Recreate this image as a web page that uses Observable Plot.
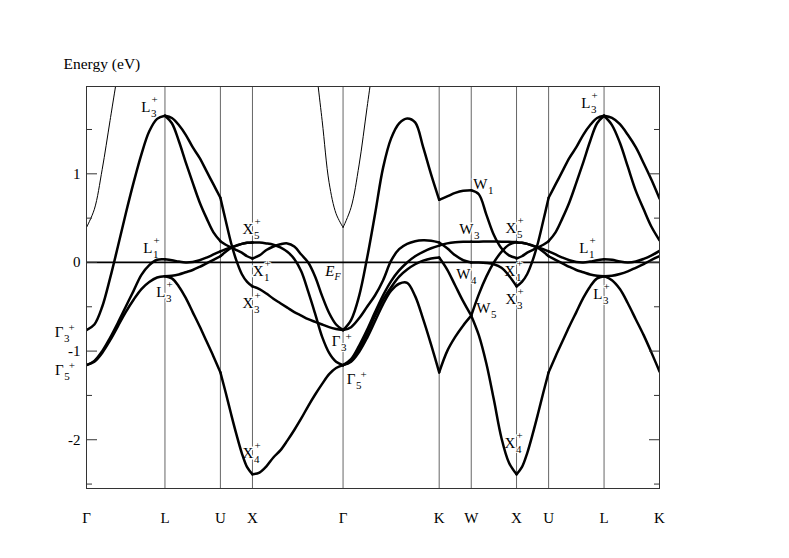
<!DOCTYPE html>
<html><head><meta charset="utf-8">
<script src="https://cdn.jsdelivr.net/npm/d3@7"></script>
<script src="https://cdn.jsdelivr.net/npm/@observablehq/plot@0.6"></script>
<style>
html,body{margin:0;padding:0;background:#fff;}
#chart{width:789px;height:558px;}
svg{font-family:"Liberation Serif","Times New Roman",serif;}
</style></head><body><div id="chart"></div>
<script>
// High-symmetry path (k in units of 2π/a)
const kLabels = ["Γ","L","U","X","Γ","K","W","X","U","L","K"];
const kPoints = [0, 0.866, 1.478, 1.832, 2.832, 3.893, 4.247, 4.747, 5.101, 5.713, 6.325];
const yMajor = [-2, -1, 0, 1];
const yMinor = [-2.5, -1.5, -0.5, 0.5, 1.5];

// Energies (eV), read at equal steps along each path segment
const bandsGL = [
  [-0.763, -0.70, -0.50, -0.18, 0.18, 0.55, 0.90, 1.22, 1.48, 1.62, 1.655],
  [-1.158, -1.11, -1.00, -0.85, -0.68, -0.50, -0.32, -0.14, -0.03, 0.03, 0.035],
  [-1.158, -1.12, -1.02, -0.88, -0.72, -0.56, -0.42, -0.30, -0.22, -0.17, -0.155]
];
const thinGL = [0.395, 0.60, 1.05, 1.60, 2.15];
const bandsLU = [
  [1.655, 1.57, 1.37, 1.13, 0.90, 0.68, 0.50, 0.34, 0.24],
  [1.655, 1.63, 1.55, 1.44, 1.30, 1.18, 1.03, 0.88, 0.73],
  [0.035, 0.025, 0.01, 0.0, 0.005, 0.025, 0.055, 0.09, 0.125],
  [-0.155, -0.15, -0.135, -0.11, -0.085, -0.05, -0.01, 0.03, 0.07],
  [-0.155, -0.18, -0.27, -0.40, -0.56, -0.72, -0.89, -1.06, -1.24]
];
const bandsUX = [
  [0.73, 0.47, 0.22, 0.02, -0.13, -0.22, -0.27],
  [0.24, 0.20, 0.17, 0.14, 0.11, 0.07, 0.045],
  [0.125, 0.15, 0.17, 0.19, 0.21, 0.222, 0.226],
  [0.07, 0.12, 0.165, 0.19, 0.21, 0.222, 0.226],
  [-1.24, -1.47, -1.71, -1.94, -2.15, -2.31, -2.39]
];
const bandsXG = [
  [0.226, 0.225, 0.215, 0.20, 0.17, 0.12, 0.04, -0.10, -0.33, -0.58, -0.84, -1.02, -1.12, -1.158],
  [0.045, 0.08, 0.14, 0.18, 0.205, 0.215, 0.18, 0.09, 0.0, -0.16, -0.38, -0.57, -0.70, -0.763],
  [-0.27, -0.30, -0.35, -0.41, -0.46, -0.51, -0.56, -0.60, -0.64, -0.67, -0.70, -0.73, -0.75, -0.763],
  [-2.39, -2.37, -2.30, -2.20, -2.12, -2.01, -1.89, -1.76, -1.62, -1.49, -1.37, -1.26, -1.19, -1.158]
];
const thinXG = [null, null, null, null, null, null, null, null, null, 2.27, 1.60, 0.90, 0.55, 0.395];
const bandsGK = [
  [-0.763, -0.65, -0.38, 0.05, 0.55, 1.07, 1.40, 1.57, 1.625, 1.58, 1.30, 0.99, 0.707],
  [-0.763, -0.73, -0.63, -0.50, -0.37, -0.20, 0.02, 0.15, 0.21, 0.24, 0.25, 0.245, 0.225],
  [-1.158, -1.09, -0.94, -0.76, -0.56, -0.37, -0.21, -0.09, 0.0, 0.07, 0.12, 0.16, 0.19],
  [-1.158, -1.11, -0.98, -0.80, -0.60, -0.42, -0.28, -0.16, -0.08, -0.02, 0.02, 0.045, 0.056],
  [-1.158, -1.12, -1.01, -0.85, -0.66, -0.47, -0.32, -0.24, -0.23, -0.38, -0.64, -0.93, -1.24]
];
const thinGK = [0.395, 0.62, 1.10, 1.75, 2.40];
const bandsKW = [
  [0.707, 0.745, 0.785, 0.81, 0.815],
  [0.225, 0.16, 0.08, 0.025, 0.0],
  [0.19, 0.215, 0.228, 0.233, 0.233],
  [0.056, -0.08, -0.26, -0.44, -0.60],
  [-1.24, -1.00, -0.84, -0.71, -0.60]
];
const bandsWX = [
  [0.815, 0.77, 0.54, 0.31, 0.16, 0.08, 0.05],
  [0.233, 0.235, 0.236, 0.236, 0.235, 0.233, 0.23],
  [0.0, 0.0, -0.005, -0.02, -0.06, -0.15, -0.27],
  [-0.60, -0.36, -0.16, 0.0, 0.12, 0.20, 0.23],
  [-0.60, -0.82, -1.14, -1.55, -1.98, -2.26, -2.39]
];
const bandsXU = [
  [-0.27, -0.22, -0.13, 0.02, 0.22, 0.47, 0.73],
  [0.045, 0.07, 0.11, 0.14, 0.17, 0.20, 0.24],
  [0.226, 0.222, 0.21, 0.19, 0.17, 0.15, 0.125],
  [0.226, 0.222, 0.21, 0.19, 0.165, 0.12, 0.07],
  [-2.39, -2.31, -2.15, -1.94, -1.71, -1.47, -1.24]
];
const bandsUL = [
  [0.24, 0.34, 0.50, 0.68, 0.90, 1.13, 1.37, 1.57, 1.655],
  [0.73, 0.88, 1.03, 1.18, 1.30, 1.44, 1.55, 1.63, 1.655],
  [0.125, 0.09, 0.055, 0.025, 0.005, 0.0, 0.01, 0.025, 0.035],
  [0.07, 0.03, -0.01, -0.05, -0.085, -0.11, -0.135, -0.15, -0.155],
  [-1.24, -1.06, -0.89, -0.72, -0.56, -0.40, -0.27, -0.18, -0.155]
];
const bandsLK = [
  [1.655, 1.63, 1.56, 1.44, 1.30, 1.12, 0.93, 0.72],
  [1.655, 1.55, 1.35, 1.08, 0.81, 0.60, 0.40, 0.25],
  [0.035, 0.03, 0.01, 0.0, 0.01, 0.04, 0.08, 0.13],
  [-0.155, -0.15, -0.13, -0.10, -0.06, -0.02, 0.03, 0.07],
  [-0.155, -0.20, -0.30, -0.46, -0.64, -0.82, -1.02, -1.23]
];

// Symmetry-point labels: letter, subscript, superscript, position (k, E)
const labelBase = ["L","L","L","X","X","X","X","Γ","Γ","Γ","Γ","W","W","W","W","X","X","X","X","L","L","L"];
const labelSub  = ["3","1","3","5","1","3","4","3","5","3","5","1","3","4","5","5","1","3","4","3","1","3"];
const labelSup  = ["+","+","+","+","+","+","+","+","+","+","+","","","","","+","+","+","+","+","+","+"];
const labelK    = [0.706, 0.728, 0.872, 1.843, 1.954, 1.843, 1.843, -0.254, -0.251, 2.804, 2.969, 4.426, 4.272, 4.238, 4.459, 4.746, 4.735, 4.746, 4.735, 5.563, 5.541, 5.695];
const labelE    = [1.693, 0.109, -0.395, 0.324, -0.150, -0.511, -2.204, -0.839, -1.275, -0.940, -1.369, 0.832, 0.325, -0.184, -0.567, 0.336, -0.150, -0.466, -2.091, 1.746, 0.109, -0.408];
const fermiLabel = {k: 2.737, E: -0.150};

const segments = [
  [0, bandsGL, thinGL], [1, bandsLU, null], [2, bandsUX, null], [3, bandsXG, thinXG],
  [4, bandsGK, thinGK], [5, bandsKW, null], [6, bandsWX, null], [7, bandsXU, null],
  [8, bandsUL, null], [9, bandsLK, null]
];

const rows = [], thinRows = [];
segments.forEach(([i0, bands, thin], s) => {
  const k0 = kPoints[i0], k1 = kPoints[i0 + 1];
  const n = bands[0].length - 1;
  bands.forEach((arr, b) => arr.forEach((E, j) => rows.push({id: s + "-" + b, k: k0 + (k1 - k0) * j / n, E})));
  if (thin) thin.forEach((E, j) => { if (E !== null) thinRows.push({id: "t" + s, k: k0 + (k1 - k0) * j / n, E}); });
});

const labels = labelBase.map((t, i) => ({t, sub: labelSub[i], sup: labelSup[i], k: labelK[i], E: labelE[i]}));
const gammaLabels = labels.filter(d => d.t === "Γ");
const otherLabels = labels.filter(d => d.t !== "Γ");
const halo = {fill: "black", stroke: "white", strokeWidth: 3, paintOrder: "stroke"};
const haloSmall = {fill: "black", stroke: "white", strokeWidth: 2, paintOrder: "stroke"};

const chart = Plot.plot({
  width: 789, height: 558,
  marginLeft: 86, marginRight: 130, marginTop: 86, marginBottom: 70,
  style: {fontFamily: "'Liberation Serif', 'Times New Roman', serif", background: "white"},
  x: {domain: [0, 6.325], axis: null},
  y: {domain: [-2.55, 1.985], axis: null},
  marks: [
    Plot.ruleX(kPoints.slice(1, -1), {stroke: "#666", strokeWidth: 1}),
    Plot.ruleY([0], {stroke: "black", strokeWidth: 1.8}),
    Plot.text(labels, {x: "k", y: "E", text: "t", textAnchor: "end", lineAnchor: "bottom", fontSize: 15, ...halo}),
    Plot.text(labels, {x: "k", y: "E", text: "sub", textAnchor: "start", lineAnchor: "bottom", fontSize: 11, dx: 0.5, dy: 5, ...haloSmall}),
    Plot.text(otherLabels, {x: "k", y: "E", text: "sup", textAnchor: "start", lineAnchor: "bottom", fontSize: 11, dx: 1, dy: -9, ...haloSmall}),
    Plot.text(gammaLabels, {x: "k", y: "E", text: "sup", textAnchor: "start", lineAnchor: "bottom", fontSize: 11, dx: 5, dy: -6, ...haloSmall}),
    Plot.text([fermiLabel], {x: "k", y: "E", text: () => "E", textAnchor: "end", lineAnchor: "bottom", fontSize: 15, fontStyle: "italic", ...halo}),
    Plot.text([fermiLabel], {x: "k", y: "E", text: () => "F", textAnchor: "start", lineAnchor: "bottom", fontSize: 10, fontStyle: "italic", dx: 0, dy: 4, ...haloSmall}),
    Plot.line(thinRows, {x: "k", y: "E", z: "id", curve: "catmull-rom", stroke: "black", strokeWidth: 1, clip: true}),
    Plot.line(rows, {x: "k", y: "E", z: "id", curve: "catmull-rom", stroke: "black", strokeWidth: 2.5, clip: true}),
    Plot.frame({stroke: "#333", strokeWidth: 1}),
    Plot.axisY(yMajor, {anchor: "left", tickSize: -11, tickPadding: 17, fontSize: 15, tickFormat: d => String(d), label: null, stroke: "#333"}),
    Plot.axisY(yMinor, {anchor: "left", tickSize: -6, tickFormat: () => "", label: null, stroke: "#333"}),
    Plot.axisY(yMajor, {anchor: "right", tickSize: -11, tickFormat: () => "", label: null, stroke: "#333"}),
    Plot.axisY(yMinor, {anchor: "right", tickSize: -6, tickFormat: () => "", label: null, stroke: "#333"}),
    Plot.text(kPoints, {x: d => d, text: (d, i) => kLabels[i], frameAnchor: "bottom", lineAnchor: "bottom", dy: 34, fontSize: 15}),
    Plot.text(["Energy (eV)"], {frameAnchor: "top-left", text: d => d, textAnchor: "start", lineAnchor: "bottom", dx: -23, dy: -18, fontSize: 15.5})
  ]
});
document.getElementById("chart").appendChild(chart);
</script></body></html>
